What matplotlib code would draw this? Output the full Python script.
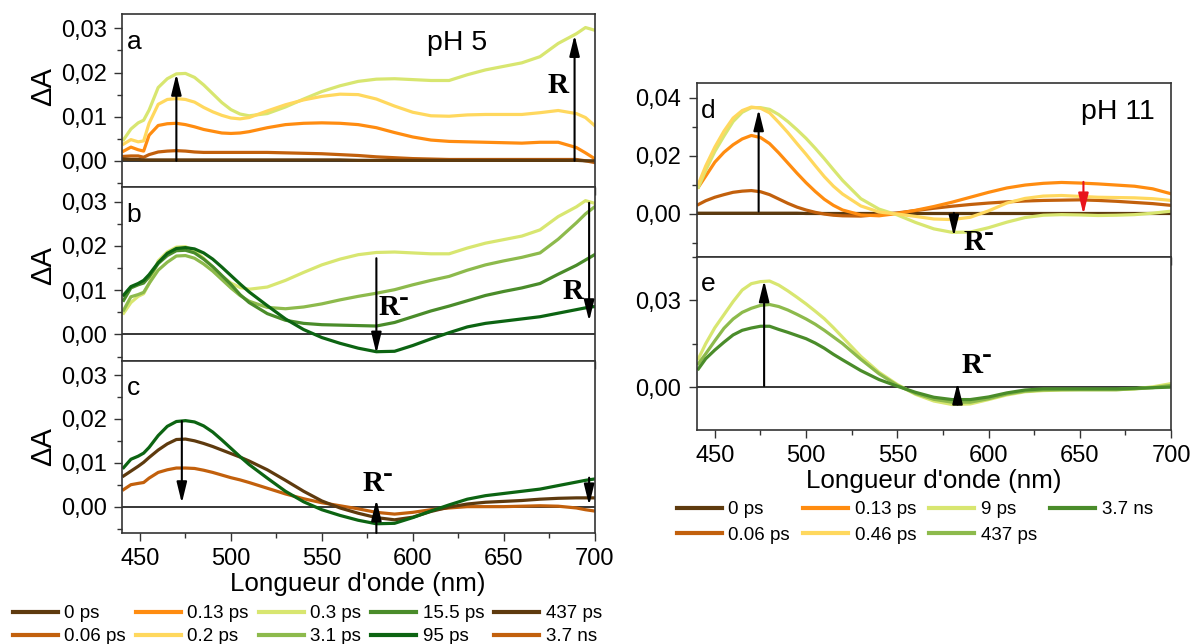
import matplotlib
matplotlib.use('Agg')
import matplotlib.pyplot as plt
from matplotlib.lines import Line2D
from matplotlib.ticker import MultipleLocator, FuncFormatter

plt.rcParams['font.family'] = ['Liberation Sans', 'DejaVu Sans']

# ---- pH 5 data (panels a, b, c) ----
wl5 = [441, 445, 449, 452, 455, 460, 465, 470, 475, 480, 485, 490, 495, 500, 505, 510,
       520, 530, 540, 550, 560, 570, 580, 590, 600, 610, 620, 630, 640, 650, 660, 670,
       680, 690, 695, 700]

p5_0ps = [0.0004, 0.0003, 0.0003, 0.0002, 0.0002, 0.0002, 0.0002, 0.0002, 0.0002, 0.0002, 0.0002, 0.0002,
          0.0002, 0.0002, 0.0002, 0.0002, 0.0002, 0.0002, 0.0002, 0.0002, 0.0002, 0.0001, 0.0001, 0.0001,
          0.0001, 0.0001, 0.0001, 0.0001, 0.0001, 0.0001, 0.0001, 0.0001, 0.0001, 0.0001, 0.0, 0.0]
p5_006ps = [0.0010, 0.0011, 0.0011, 0.0008, 0.0014, 0.0020, 0.0022, 0.0023, 0.0022, 0.0020, 0.0019, 0.0019,
            0.0019, 0.0019, 0.0019, 0.0019, 0.0019, 0.0018, 0.0017, 0.0016, 0.0014, 0.0012, 0.0009, 0.0007,
            0.0005, 0.0004, 0.0003, 0.0003, 0.0003, 0.0003, 0.0003, 0.0003, 0.0003, 0.0003, 0.0000, -0.0004]
p5_013ps = [0.0022, 0.0031, 0.0025, 0.0022, 0.0058, 0.0080, 0.0084, 0.0085, 0.0082, 0.0077, 0.0071, 0.0067,
            0.0063, 0.0062, 0.0063, 0.0066, 0.0075, 0.0082, 0.0085, 0.0086, 0.0085, 0.0082, 0.0075, 0.0064,
            0.0054, 0.0047, 0.0044, 0.0043, 0.0042, 0.0041, 0.0040, 0.0042, 0.0042, 0.0030, 0.0018, 0.0005]
p5_02ps = [0.0038, 0.0048, 0.0043, 0.0045, 0.0085, 0.0128, 0.0139, 0.0141, 0.0139, 0.0133, 0.0121, 0.0111,
           0.0103, 0.0097, 0.0095, 0.0098, 0.0113, 0.0127, 0.0138, 0.0146, 0.0151, 0.0150, 0.0140, 0.0124,
           0.0110, 0.0102, 0.0101, 0.0104, 0.0105, 0.0105, 0.0105, 0.0109, 0.0114, 0.0107, 0.0098, 0.0080]
p5_03ps = [0.0048, 0.0072, 0.0086, 0.0092, 0.0115, 0.0166, 0.0186, 0.0197, 0.0198, 0.0189, 0.0172, 0.0152,
           0.0132, 0.0116, 0.0106, 0.0102, 0.0107, 0.0122, 0.0140, 0.0157, 0.0170, 0.0180, 0.0185, 0.0186,
           0.0184, 0.0182, 0.0182, 0.0195, 0.0206, 0.0214, 0.0222, 0.0236, 0.0266, 0.0288, 0.0302, 0.0296]
p5_31ps = [0.0055, 0.0085, 0.0090, 0.0095, 0.0115, 0.0145, 0.0163, 0.0177, 0.0178, 0.0172, 0.0159, 0.0143,
           0.0124, 0.0105, 0.0088, 0.0075, 0.0061, 0.0058, 0.0062, 0.0069, 0.0078, 0.0086, 0.0093, 0.0101,
           0.0112, 0.0122, 0.0131, 0.0145, 0.0157, 0.0166, 0.0174, 0.0184, 0.0215, 0.0252, 0.0272, 0.0288]
p5_155ps = [0.0077, 0.0105, 0.0112, 0.0116, 0.0130, 0.0160, 0.0178, 0.0189, 0.0190, 0.0184, 0.0170, 0.0153,
            0.0133, 0.0113, 0.0090, 0.0072, 0.0047, 0.0032, 0.0025, 0.0022, 0.0021, 0.0020, 0.0019, 0.0027,
            0.0040, 0.0053, 0.0064, 0.0076, 0.0088, 0.0097, 0.0105, 0.0115, 0.0136, 0.0156, 0.0168, 0.0180]
p5_95ps = [0.0089, 0.0108, 0.0115, 0.0122, 0.0135, 0.0162, 0.0183, 0.0194, 0.0196, 0.0193, 0.0184, 0.0170,
           0.0152, 0.0133, 0.0114, 0.0096, 0.0065, 0.0035, 0.0011, -0.0007, -0.0020, -0.0031, -0.0039, -0.0038,
           -0.0025, -0.0010, 0.0004, 0.0017, 0.0025, 0.0030, 0.0035, 0.0040, 0.0048, 0.0056, 0.0060, 0.0063]
p5_437ps = [0.0070, 0.0081, 0.0092, 0.0101, 0.0112, 0.0129, 0.0143, 0.0153, 0.0154, 0.0150, 0.0144, 0.0137,
            0.0129, 0.0121, 0.0113, 0.0104, 0.0084, 0.0060, 0.0035, 0.0013, -0.0003, -0.0015, -0.0025, -0.0030,
            -0.0024, -0.0011, -0.0001, 0.0006, 0.0010, 0.0012, 0.0014, 0.0017, 0.0019, 0.0020, 0.0020, 0.0020]
p5_37ns = [0.0039, 0.0050, 0.0053, 0.0055, 0.0065, 0.0078, 0.0084, 0.0088, 0.0088, 0.0087, 0.0083, 0.0078,
           0.0072, 0.0066, 0.0061, 0.0055, 0.0042, 0.0029, 0.0018, 0.0009, 0.0002, -0.0005, -0.0013, -0.0017,
           -0.0013, -0.0007, -0.0003, 0.0000, 0.0000, 0.0000, 0.0001, 0.0002, 0.0001, -0.0003, -0.0007, -0.0010]

# ---- pH 11 data (panels d, e) ----
wl11 = [441, 445, 450, 455, 460, 465, 470, 475, 480, 485, 490, 495, 500, 505, 510, 515, 520, 530,
        540, 550, 560, 570, 580, 590, 600, 610, 620, 630, 640, 650, 660, 670, 680, 690, 700]

d_0ps = [0.0002, 0.0002, 0.0002, 0.0002, 0.0002, 0.0002, 0.0002, 0.0002, 0.0002, 0.0002, 0.0002, 0.0002,
         0.0001, 0.0001, 0.0001, 0.0001, 0.0001, 0.0001, 0.0001, 0.0001, 0.0001, 0.0001, 0.0001, 0.0001,
         0.0001, 0.0001, 0.0001, 0.0001, 0.0001, 0.0001, 0.0001, 0.0001, 0.0001, 0.0001, 0.0001]
d_006ps = [0.0032, 0.0045, 0.0057, 0.0066, 0.0074, 0.0078, 0.0080, 0.0076, 0.0066, 0.0051, 0.0036, 0.0023,
           0.0013, 0.0005, -0.0001, -0.0005, -0.0007, -0.0008, -0.0003, 0.0003, 0.0011, 0.0019, 0.0026, 0.0032,
           0.0037, 0.0041, 0.0044, 0.0046, 0.0047, 0.0048, 0.0046, 0.0043, 0.0039, 0.0035, 0.0029]
d_013ps = [0.0092, 0.0130, 0.0178, 0.0212, 0.0238, 0.0258, 0.0270, 0.0263, 0.0242, 0.0210, 0.0175, 0.0140,
           0.0107, 0.0077, 0.0050, 0.0029, 0.0013, -0.0004, -0.0007, 0.0001, 0.0012, 0.0025, 0.0040, 0.0057,
           0.0074, 0.0089, 0.0099, 0.0105, 0.0108, 0.0106, 0.0103, 0.0099, 0.0095, 0.0086, 0.0069]
d_046ps = [0.0103, 0.0165, 0.0230, 0.0285, 0.0330, 0.0356, 0.0368, 0.0364, 0.0348, 0.0315, 0.0280, 0.0242,
           0.0205, 0.0166, 0.0128, 0.0095, 0.0068, 0.0027, 0.0006, -0.0001, -0.0009, -0.0018, -0.0020, -0.0012,
           0.0010, 0.0037, 0.0053, 0.0061, 0.0063, 0.0060, 0.0057, 0.0056, 0.0055, 0.0052, 0.0046]
d_9ps = [0.0092, 0.0150, 0.0215, 0.0268, 0.0318, 0.0350, 0.0366, 0.0366, 0.0360, 0.0342, 0.0318, 0.0290,
         0.0260, 0.0226, 0.0190, 0.0152, 0.0115, 0.0052, 0.0016, -0.0004, -0.0030, -0.0052, -0.0064, -0.0063,
         -0.0048, -0.0029, -0.0013, -0.0005, -0.0003, -0.0004, -0.0006, -0.0005, -0.0003, 0.0002, 0.0009]

e_9ps = [0.0098, 0.0150, 0.0205, 0.0250, 0.0295, 0.0335, 0.0357, 0.0364, 0.0366, 0.0352, 0.0332, 0.0310,
         0.0287, 0.0262, 0.0236, 0.0205, 0.0172, 0.0106, 0.0051, 0.0009, -0.0025, -0.0048, -0.0060, -0.0058,
         -0.0043, -0.0027, -0.0016, -0.0012, -0.0010, -0.0009, -0.0009, -0.0009, -0.0006, 0.0001, 0.0012]
e_437ps = [0.0081, 0.0115, 0.0160, 0.0203, 0.0235, 0.0258, 0.0272, 0.0282, 0.0285, 0.0278, 0.0266, 0.0251,
           0.0235, 0.0217, 0.0196, 0.0173, 0.0150, 0.0096, 0.0046, 0.0006, -0.0022, -0.0042, -0.0052, -0.0052,
           -0.0040, -0.0024, -0.0014, -0.0010, -0.0009, -0.0009, -0.0009, -0.0009, -0.0006, -0.0002, 0.0006]
e_37ns = [0.0063, 0.0098, 0.0128, 0.0155, 0.0180, 0.0196, 0.0204, 0.0210, 0.0210, 0.0199, 0.0189, 0.0178,
          0.0167, 0.0152, 0.0134, 0.0113, 0.0094, 0.0057, 0.0026, 0.0003, -0.0018, -0.0035, -0.0043, -0.0043,
          -0.0034, -0.0020, -0.0010, -0.0006, -0.0006, -0.0006, -0.0006, -0.0006, -0.0004, -0.0002, 0.0000]

# colours
C_BROWN = '#5e3a0e'
C_RUST = '#c2600c'
C_ORANGE = '#ff8c10'
C_YELLOW = '#ffd85e'
C_LIME = '#d8e670'
C_GREEN1 = '#8dba4c'
C_GREEN2 = '#4a8c2a'
C_GREEN3 = '#0c6412'

LW = 2.3

fig = plt.figure(figsize=(11.92, 6.44), dpi=100)

ax_a = fig.add_axes([0.1022, 0.7092, 0.3966, 0.2686])
ax_b = fig.add_axes([0.1022, 0.4394, 0.3966, 0.2697])
ax_c = fig.add_axes([0.1022, 0.1724, 0.3966, 0.2671])
ax_d = fig.add_axes([0.5844, 0.6014, 0.3980, 0.2693])
ax_e = fig.add_axes([0.5844, 0.3323, 0.3980, 0.2691])

comma = FuncFormatter(lambda v, p: '{:.2f}'.format(v).replace('.', ','))

for ax in [ax_a, ax_b, ax_c, ax_d, ax_e]:
    ax.set_xlim(440, 700)
    ax.axhline(0, color='k', lw=1.1, zorder=1)
    ax.xaxis.set_major_locator(MultipleLocator(50))
    ax.xaxis.set_minor_locator(MultipleLocator(25))
    ax.yaxis.set_major_formatter(comma)
    ax.tick_params(which='both', direction='out', top=False, right=False, labelsize=17, width=1,
                   color='#333333', pad=5)
    ax.tick_params(which='major', length=6)
    ax.tick_params(which='minor', length=3.5)
    for s in ax.spines.values():
        s.set_linewidth(1.2)
        s.set_color('#333333')

for ax in [ax_a, ax_b, ax_c]:
    ax.set_ylim(-0.006, 0.0332)
    ax.yaxis.set_major_locator(MultipleLocator(0.01))
    ax.yaxis.set_minor_locator(MultipleLocator(0.005))
for ax in [ax_d, ax_e]:
    ax.set_ylim(-0.0148, 0.045)
ax_d.yaxis.set_major_locator(MultipleLocator(0.02))
ax_d.yaxis.set_minor_locator(MultipleLocator(0.01))
ax_e.yaxis.set_major_locator(MultipleLocator(0.03))
ax_e.yaxis.set_minor_locator(MultipleLocator(0.015))

for ax in [ax_a, ax_b, ax_d]:
    ax.tick_params(labelbottom=False)

# curves
ax_a.plot(wl5, p5_03ps, color=C_LIME, lw=LW)
ax_a.plot(wl5, p5_02ps, color=C_YELLOW, lw=LW)
ax_a.plot(wl5, p5_013ps, color=C_ORANGE, lw=LW)
ax_a.plot(wl5, p5_006ps, color=C_RUST, lw=LW)
ax_a.plot(wl5, p5_0ps, color=C_BROWN, lw=LW)

ax_b.plot(wl5, p5_03ps, color=C_LIME, lw=LW)
ax_b.plot(wl5, p5_31ps, color=C_GREEN1, lw=LW)
ax_b.plot(wl5, p5_155ps, color=C_GREEN2, lw=LW)
ax_b.plot(wl5, p5_95ps, color=C_GREEN3, lw=LW)

ax_c.plot(wl5, p5_37ns, color=C_RUST, lw=LW)
ax_c.plot(wl5, p5_437ps, color=C_BROWN, lw=LW)
ax_c.plot(wl5, p5_95ps, color=C_GREEN3, lw=LW)

ax_d.plot(wl11, d_0ps, color=C_BROWN, lw=LW)
ax_d.plot(wl11, d_006ps, color=C_RUST, lw=LW)
ax_d.plot(wl11, d_013ps, color=C_ORANGE, lw=LW)
ax_d.plot(wl11, d_9ps, color=C_LIME, lw=LW)
ax_d.plot(wl11, d_046ps, color=C_YELLOW, lw=LW)

ax_e.plot(wl11, e_9ps, color=C_LIME, lw=LW)
ax_e.plot(wl11, e_437ps, color=C_GREEN1, lw=LW)
ax_e.plot(wl11, e_37ns, color=C_GREEN2, lw=LW)


def arrow(ax, x, y0, y1, color='k'):
    ax.annotate('', xy=(x, y1), xytext=(x, y0),
                arrowprops=dict(arrowstyle='-|>,head_length=0.9,head_width=0.22',
                                color=color, lw=1.5, mutation_scale=14, shrinkA=0, shrinkB=0),
                zorder=5)


arrow(ax_a, 470, 0.0, 0.0197)
arrow(ax_a, 689, 0.0, 0.0285)
arrow(ax_b, 580, 0.0172, -0.0043)
arrow(ax_b, 697, 0.0297, 0.0030)
arrow(ax_c, 473, 0.0195, 0.0008)
arrow(ax_c, 580, -0.006, 0.0016)
arrow(ax_c, 697, 0.0066, 0.0003)
arrow(ax_d, 474, 0.0008, 0.0360)
arrow(ax_d, 581, 0.0003, -0.0078)
arrow(ax_d, 652, 0.0110, -0.0002, color='#e8141c')
arrow(ax_e, 477, 0.0004, 0.0368)
arrow(ax_e, 583, -0.0060, 0.0015)

R_KW = dict(fontfamily='Liberation Serif', fontweight='bold', fontsize=21, ha='center', va='center')


def r_label(ax, x, y, minus=False):
    ax.text(x, y, 'R', **R_KW)
    if minus:
        ax.annotate('-', xy=(x, y), xytext=(10.5, 7), textcoords='offset points', **R_KW)


r_label(ax_a, 680, 0.017)
r_label(ax_b, 688, 0.0096)
r_label(ax_b, 587, 0.0060, minus=True)
r_label(ax_c, 578, 0.0052, minus=True)
r_label(ax_d, 592, -0.0100, minus=True)
r_label(ax_e, 591, 0.0075, minus=True)

for ax, lab in zip([ax_a, ax_b, ax_c, ax_d, ax_e], 'abcde'):
    ax.text(0.01, 0.84, lab, transform=ax.transAxes, fontsize=19, va='center', ha='left')
ax_a.text(0.709, 0.834, 'pH 5', transform=ax_a.transAxes, fontsize=20.5, va='center', ha='center')
ax_d.text(0.888, 0.836, 'pH 11', transform=ax_d.transAxes, fontsize=20.5, va='center', ha='center')

for ax, yy in zip([ax_a, ax_b, ax_c], [0.58, 0.55, 0.5]):
    ax.set_ylabel('ΔA', fontsize=21)
    ax.yaxis.set_label_coords(-0.137, yy)

ax_c.set_xlabel("Longueur d'onde (nm)", fontsize=18.7, labelpad=1)
ax_e.set_xlabel("Longueur d'onde (nm)", fontsize=18.7, labelpad=1)

# legends
left_h = [Line2D([], [], color=c, lw=3) for c in
          [C_BROWN, C_RUST, C_ORANGE, C_YELLOW, C_LIME, C_GREEN1, C_GREEN2, C_GREEN3, C_BROWN, C_RUST]]
left_l = ['0 ps', '0.06 ps', '0.13 ps', '0.2 ps', '0.3 ps', '3.1 ps', '15.5 ps', '95 ps', '437 ps', '3.7 ns']
fig.legend(left_h, left_l, ncol=5, loc='upper left', bbox_to_anchor=(0.0105, 0.0602), frameon=False,
           fontsize=13.5, handlelength=2.4, handletextpad=0.35, columnspacing=0.53, labelspacing=0.31,
           borderpad=0, borderaxespad=0)

right_h = [Line2D([], [], color=c, lw=3) for c in
           [C_BROWN, C_RUST, C_ORANGE, C_YELLOW, C_LIME, C_GREEN1, C_GREEN2]]
right_l = ['0 ps', '0.06 ps', '0.13 ps', '0.46 ps', '9 ps', '437 ps', '3.7 ns']
fig.legend(right_h, right_l, ncol=4, loc='upper left', bbox_to_anchor=(0.5677, 0.2218), frameon=False,
           fontsize=13.5, handlelength=2.4, handletextpad=0.35, columnspacing=0.7, labelspacing=0.46,
           borderpad=0, borderaxespad=0)

fig.savefig('out.png', dpi=100)
